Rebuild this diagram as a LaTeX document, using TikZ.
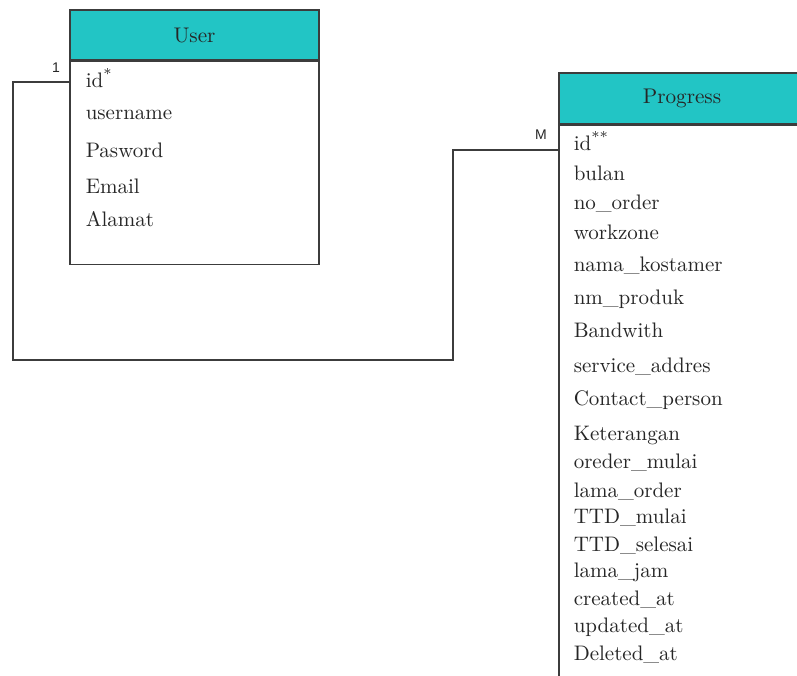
\documentclass[tikz,border=0pt]{standalone}
\usepackage{fontspec}
\setsansfont{Liberation Sans}
\usepackage{tikz}
\usetikzlibrary{positioning}
\definecolor{headteal}{HTML}{22C5C5}
\definecolor{lineg}{HTML}{3C3C3C}

\begin{document}
\begin{tikzpicture}[x=0.5pt,y=-0.5pt,line width=0.75pt,
	head/.style={draw=lineg,fill=headteal,inner sep=0pt,font=\rmfamily\fontsize{10.6}{13}\selectfont,text=black!85},
	tbody/.style={draw=lineg,fill=white,inner sep=0pt},
	field/.style={anchor=base west,inner sep=0pt,font=\rmfamily\fontsize{10.5}{13}\selectfont,text=black!85},
	card/.style={font=\sffamily\fontsize{7}{8}\selectfont,inner sep=0pt,text=black!85},
	link/.style={draw=lineg}]

\fill[white] (0,0) rectangle (797,675);
\clip (0,0) rectangle (797,675);

% tabel user
\node[head,minimum width=124.5pt,minimum height=25pt]	(user) at (194.5,35)	{User};
\node[tbody,minimum width=124.5pt,minimum height=101.5pt]	(ubody) [below=0pt of user]	{};

\node[field]	(uid)		at (85,87)	{id\textsuperscript{*}};
\node[field]	(uname)		at (85,119)	{username};
\node[field]	(upass)		at (85,157)	{Pasword};
\node[field]	(umail)		at (85,193)	{Email};
\node[field]	(ualamat)	at (85,226)	{Alamat};

% tabel progress
\node[head,minimum width=123pt,minimum height=25.5pt]	(progress) at (682,98.5)	{Progress};
\node[tbody,minimum width=123pt,minimum height=300pt]	(pbody) [below=0pt of progress]	{};

\node[field]	(pid)		at (573,150)	{id\textsuperscript{**}};
\node[field]	(pbulan)	at (573,180)	{bulan};
\node[field]	(porder)	at (573,209)	{no\_order};
\node[field]	(pzone)		at (573,239)	{workzone};
\node[field]	(pnama)		at (573,271)	{nama\_kostamer};
\node[field]	(pproduk)	at (573,304)	{nm\_produk};
\node[field]	(pband)		at (573,337)	{Bandwith};
\node[field]	(paddr)		at (573,372)	{service\_addres};
\node[field]	(pcontact)	at (573,405)	{Contact\_person};
\node[field]	(pket)		at (573,440)	{Keterangan};
\node[field]	(pomulai)	at (573,468)	{oreder\_mulai};
\node[field]	(plorder)	at (573,497)	{lama\_order};
\node[field]	(pttdm)		at (573,523)	{TTD\_mulai};
\node[field]	(pttds)		at (573,551)	{TTD\_selesai};
\node[field]	(pjam)		at (573,577)	{lama\_jam};
\node[field]	(pcreated)	at (573,605)	{created\_at};
\node[field]	(pupdated)	at (573,632)	{updated\_at};
\node[field]	(pdeleted)	at (573,660)	{Deleted\_at};

% relasi 1 - M
\coordinate	(ulink)	at (ubody.west |- 0,82);
\coordinate	(plink)	at (pbody.west |- 0,150);
\draw[link] (ulink) -- (13,82) -- (13,360) -- (453,360) -- (453,150) -- (plink);

\node[card]	(one)	at (56,68)	{1};
\node[card]	(many)	at (541,135)	{M};
\end{tikzpicture}
\end{document}
